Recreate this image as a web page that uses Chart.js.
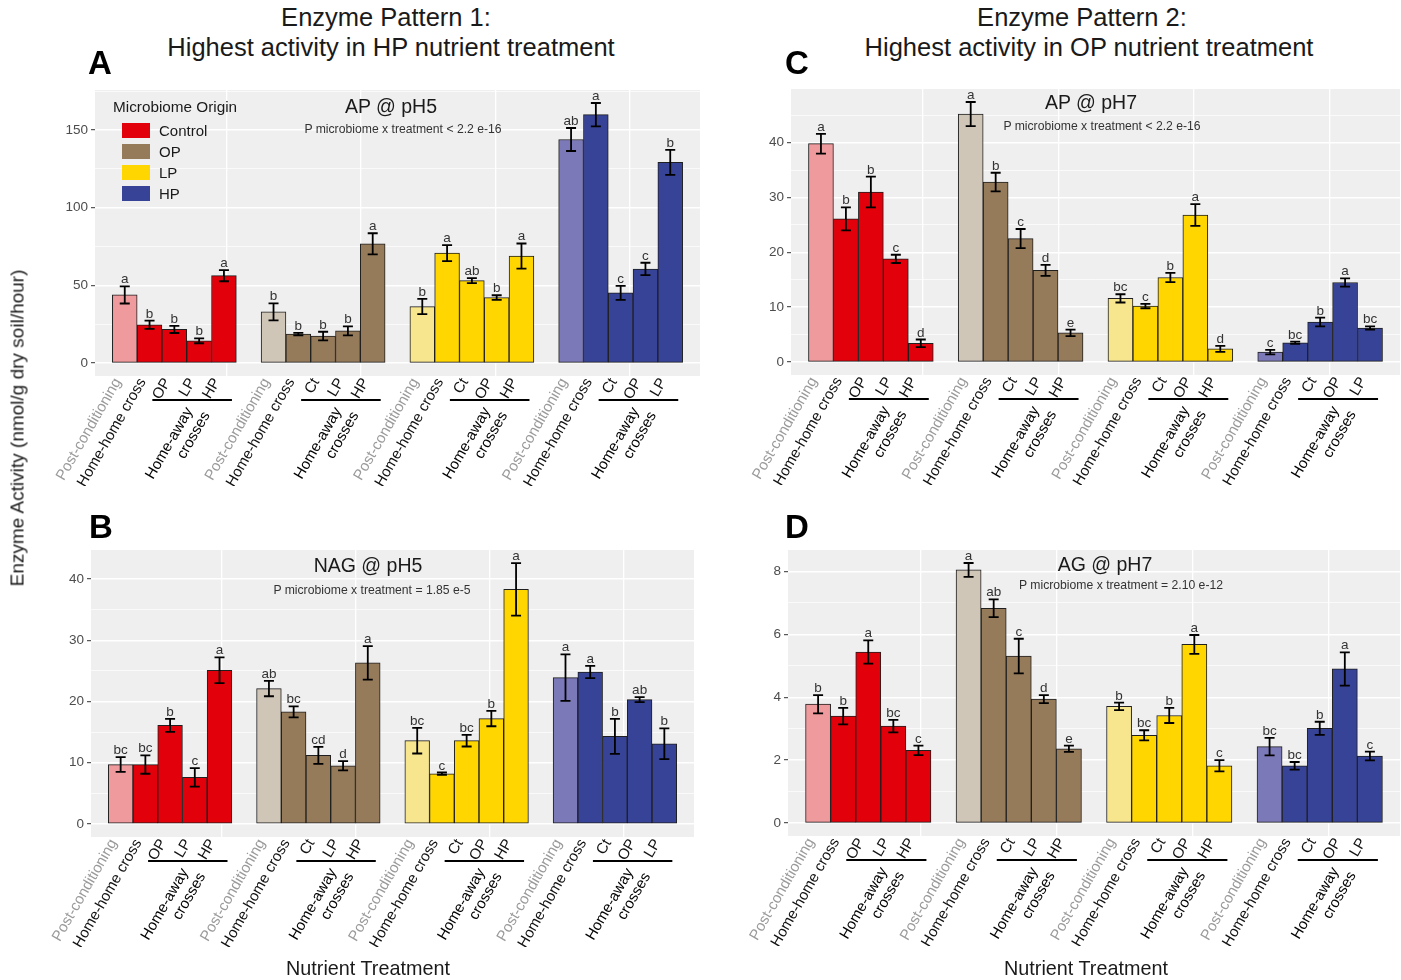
<!DOCTYPE html>
<html>
<head>
<meta charset="utf-8">
<script src="https://cdn.jsdelivr.net/npm/chart.js@4.4.1/dist/chart.umd.min.js"></script>
<style>
  body { margin:0; background:#fff; width:1401px; height:980px; overflow:hidden; position:relative;
         font-family:"Liberation Sans", Arial, sans-serif; color:#1a1a1a; }
  canvas { position:absolute; }
  .t { position:absolute; white-space:nowrap; line-height:1; }
  .c { transform:translateX(-50%); }
  .sw { position:absolute; width:28px; height:15px; }
</style>
</head>
<body>
<canvas id="cA" width="700" height="420" style="left:0;top:80px"></canvas>
<canvas id="cC" width="701" height="420" style="left:700px;top:80px"></canvas>
<canvas id="cB" width="700" height="420" style="left:0;top:540px"></canvas>
<canvas id="cD" width="701" height="420" style="left:700px;top:540px"></canvas>

<!-- заголовки -->
<div class="t c" style="left:386px;top:5.4px;font-size:25.5px">Enzyme Pattern 1:</div>
<div class="t c" style="left:391px;top:35.4px;font-size:25.5px">Highest activity in HP nutrient treatment</div>
<div class="t c" style="left:1082px;top:5.4px;font-size:25.5px">Enzyme Pattern 2:</div>
<div class="t c" style="left:1089px;top:35.4px;font-size:25.5px">Highest activity in OP nutrient treatment</div>

<div class="t" style="left:88px;top:46px;font-size:33px;font-weight:bold;color:#000">A</div>
<div class="t" style="left:785px;top:46px;font-size:33px;font-weight:bold;color:#000">C</div>
<div class="t" style="left:89px;top:510px;font-size:33px;font-weight:bold;color:#000">B</div>
<div class="t" style="left:785px;top:510px;font-size:33px;font-weight:bold;color:#000">D</div>

<!-- подписи панелей -->
<div class="t c" style="left:391px;top:96.5px;font-size:19.5px">AP @ pH5</div>
<div class="t c" style="left:403px;top:122.7px;font-size:12.2px;color:#333">P microbiome x treatment &lt; 2.2 e-16</div>
<div class="t c" style="left:1091px;top:92.5px;font-size:19.5px">AP @ pH7</div>
<div class="t c" style="left:1102px;top:119.7px;font-size:12.2px;color:#333">P microbiome x treatment &lt; 2.2 e-16</div>
<div class="t c" style="left:368px;top:555.5px;font-size:19.5px">NAG @ pH5</div>
<div class="t c" style="left:372px;top:583.7px;font-size:12.2px;color:#333">P microbiome x treatment = 1.85 e-5</div>
<div class="t c" style="left:1105px;top:554.5px;font-size:19.5px">AG @ pH7</div>
<div class="t c" style="left:1121px;top:578.7px;font-size:12.2px;color:#333">P microbiome x treatment = 2.10 e-12</div>

<!-- оси -->
<div class="t" style="left:17px;top:428px;font-size:19px;transform:translate(-50%,-50%) rotate(-90deg)">Enzyme Activity (nmol/g dry soil/hour)</div>
<div class="t c" style="left:368px;top:959.2px;font-size:19.8px">Nutrient Treatment</div>
<div class="t c" style="left:1086px;top:959.2px;font-size:19.8px">Nutrient Treatment</div>

<!-- легенда -->
<div id="legend"></div>

<script>
// === DATA ===
const GROUPS = ['Control', 'OP', 'LP', 'HP'];
const TREATMENTS = [
  ['Post-conditioning', 'Home-home cross', 'OP', 'LP', 'HP'],
  ['Post-conditioning', 'Home-home cross', 'Ct', 'LP', 'HP'],
  ['Post-conditioning', 'Home-home cross', 'Ct', 'OP', 'HP'],
  ['Post-conditioning', 'Home-home cross', 'Ct', 'OP', 'LP']
];
const AWAY_LABEL = ['Home-away', 'crosses'];

// A: AP @ pH5
const AP5_MEAN = [43.8, 24.6, 21.6, 14.3, 56.2,  32.9, 18.6, 17.3, 20.7, 76.7,  36.3, 70.7, 53.0, 42.1, 68.8,  143.8, 159.8, 45.1, 60.5, 129.1];
const AP5_SE   = [5.5, 2.7, 2.3, 1.6, 3.6,  5.5, 0.8, 2.8, 2.9, 6.8,  4.9, 5.2, 1.6, 1.5, 8.1,  7.4, 7.5, 4.5, 4.0, 8.1];
const AP5_LET  = ['a','b','b','b','a',  'b','b','b','b','a',  'b','a','ab','b','a',  'ab','a','c','c','b'];
const AP5_TICKS = [0, 50, 100, 150];

// C: AP @ pH7
const AP7_MEAN = [39.8, 26.1, 31.0, 18.8, 3.4,  45.2, 32.8, 22.5, 16.7, 5.3,  11.6, 10.2, 15.4, 26.8, 2.4,  1.8, 3.5, 7.3, 14.5, 6.2];
const AP7_SE   = [1.8, 2.1, 2.8, 0.75, 0.7,  2.2, 1.7, 1.75, 1.0, 0.6,  0.75, 0.4, 0.85, 2.0, 0.55,  0.4, 0.2, 0.8, 0.75, 0.3];
const AP7_LET  = ['a','b','b','c','d',  'a','b','c','d','e',  'bc','c','b','a','d',  'c','bc','b','a','bc'];
const AP7_TICKS = [0, 10, 20, 30, 40];

// B: NAG @ pH5
const NAG5_MEAN = [9.7, 9.7, 16.1, 7.6, 25.1,  22.1, 18.3, 11.2, 9.5, 26.3,  13.6, 8.2, 13.6, 17.2, 38.3,  23.9, 24.8, 14.3, 20.3, 13.1];
const NAG5_SE   = [1.2, 1.5, 1.05, 1.5, 2.1,  1.25, 0.9, 1.4, 0.75, 2.75,  2.1, 0.2, 0.95, 1.25, 4.3,  3.8, 1.0, 2.85, 0.4, 2.5];
const NAG5_LET  = ['bc','bc','b','c','a',  'ab','bc','cd','d','a',  'bc','c','bc','b','a',  'a','a','b','ab','b'];
const NAG5_TICKS = [0, 10, 20, 30, 40];

// D: AG @ pH7
const AG7_MEAN = [3.78, 3.40, 5.44, 3.08, 2.31,  8.05, 6.83, 5.31, 3.94, 2.36,  3.71, 2.79, 3.42, 5.68, 1.82,  2.43, 1.82, 3.01, 4.90, 2.13];
const AG7_SE   = [0.29, 0.26, 0.37, 0.20, 0.15,  0.22, 0.28, 0.55, 0.13, 0.10,  0.12, 0.16, 0.24, 0.30, 0.18,  0.28, 0.12, 0.21, 0.53, 0.14];
const AG7_LET  = ['b','b','a','bc','c',  'a','ab','c','d','e',  'b','bc','b','a','c',  'bc','bc','b','a','c'];
const AG7_TICKS = [0, 2, 4, 6, 8];

// === STYLE ===
const FONT   = '"Liberation Sans", Arial, sans-serif';
const FULL   = ['#E2000B', '#967B5B', '#FFD600', '#374396'];
const PALE   = ['#EF9A9D', '#D0C6B8', '#F8E68E', '#7C79B9'];
const PANEL_BG = '#EFEFEF';
const XPAD   = 0.7;                          // поля по краям оси x, в ширинах столбика
const VGRID  = [1.37, 6.81, 12.24, 17.66];   // вертикальные линии сетки (в единицах оси x)

Chart.defaults.font.family = FONT;

const PANELS = [
  { id:'cA', mean:AP5_MEAN,  se:AP5_SE,  letters:AP5_LET,  ticks:AP5_TICKS,  pad:{left:55, right:0, top:10, bottom:14} },
  { id:'cC', mean:AP7_MEAN,  se:AP7_SE,  letters:AP7_LET,  ticks:AP7_TICKS,  pad:{left:51, right:1, top:9,  bottom:15} },
  { id:'cB', mean:NAG5_MEAN, se:NAG5_SE, letters:NAG5_LET, ticks:NAG5_TICKS, pad:{left:51, right:6, top:10, bottom:13} },
  { id:'cD', mean:AG7_MEAN,  se:AG7_SE,  letters:AG7_LET,  ticks:AG7_TICKS,  pad:{left:48, right:1, top:10, bottom:14} }
];

// === plugins ===
function panelBgPlugin(){
  return {
    id: 'panelBg',
    beforeDraw(chart){
      const { ctx, chartArea:a } = chart;
      ctx.save();
      ctx.fillStyle = PANEL_BG;
      ctx.fillRect(a.left, a.top, a.right - a.left, a.bottom - a.top);
      ctx.restore();
    }
  };
}

function errorBarsPlugin(mean, se, letters){
  return {
    id: 'errorBars',
    afterDatasetsDraw(chart){
      const { ctx } = chart;
      const y = chart.scales.y;
      const meta = chart.getDatasetMeta(0);
      ctx.save();
      meta.data.forEach((bar, k) => {
        const yt = y.getPixelForValue(mean[k] + se[k]);
        const yb = y.getPixelForValue(mean[k] - se[k]);
        ctx.strokeStyle = '#000';
        ctx.lineWidth = 1.8;
        ctx.beginPath();
        ctx.moveTo(bar.x, yt);     ctx.lineTo(bar.x, yb);
        ctx.moveTo(bar.x - 5, yt); ctx.lineTo(bar.x + 5, yt);
        ctx.moveTo(bar.x - 5, yb); ctx.lineTo(bar.x + 5, yb);
        ctx.stroke();
        // буква значимости над усом
        ctx.fillStyle = '#333';
        ctx.font = '13.5px ' + FONT;
        ctx.textAlign = 'center';
        ctx.textBaseline = 'alphabetic';
        ctx.fillText(letters[k], bar.x, yt - 3);
      });
      ctx.restore();
    }
  };
}

function awayGroupPlugin(xOf){
  return {
    id: 'awayGroup',
    afterDraw(chart){
      const { ctx, chartArea:a } = chart;
      const x = chart.scales.x;
      ctx.save();
      GROUPS.forEach((g, gi) => {
        const x2 = x.getPixelForValue(xOf(gi * 5 + 2));
        const x4 = x.getPixelForValue(xOf(gi * 5 + 4));
        const ly = a.bottom + 24;
        ctx.strokeStyle = '#000';
        ctx.lineWidth = 2;
        ctx.beginPath();
        ctx.moveTo(x2 - 22, ly);
        ctx.lineTo(x4 + 8, ly);
        ctx.stroke();

        ctx.save();
        ctx.translate(x4 - 41, a.bottom + 29);
        ctx.rotate(-Math.PI / 3);
        ctx.fillStyle = '#000';
        ctx.font = '15px ' + FONT;
        ctx.textAlign = 'right';
        ctx.textBaseline = 'top';
        ctx.fillText(AWAY_LABEL[0], 0, 0);
        ctx.fillText(AWAY_LABEL[1], 5, 17);
        ctx.restore();
      });
      ctx.restore();
    }
  };
}

// === RENDER ===
function renderPanel(p){
  const xOf = k => Math.floor(k / 5) * 6 + (k % 5);   // 5 столбиков + пропуск на группу
  const xs = p.mean.map((_, k) => xOf(k));
  const labels = TREATMENTS.flat();
  const colors = p.mean.map((_, k) => (k % 5 === 0 ? PALE : FULL)[Math.floor(k / 5)]);

  const top = Math.max(...p.mean.map((m, k) => m + p.se[k]));
  const yMin = -0.05 * top, yMax = 1.05 * top;
  const half = (p.ticks[1] - p.ticks[0]) / 2;
  const yTicks = [];
  for (let i = 0; p.ticks[0] + i * half <= yMax; i++) yTicks.push(p.ticks[0] + i * half);
  const isMajor = v => p.ticks.includes(v);

  const xMin = xs[0] - 0.5 - XPAD, xMax = xs[xs.length - 1] + 0.5 + XPAD;

  new Chart(document.getElementById(p.id), {
    type: 'bar',
    data: {
      datasets: [{
        data: xs.map((x, k) => ({ x, y: p.mean[k] })),
        backgroundColor: colors,
        borderColor: '#1f1f1f',
        borderWidth: 1,
        borderSkipped: false,
        barPercentage: 1,
        categoryPercentage: 1
      }]
    },
    options: {
      responsive: false,
      animation: false,
      events: [],
      layout: { padding: p.pad },
      plugins: { legend: { display: false }, tooltip: { enabled: false } },
      scales: {
        x: {
          type: 'linear', min: xMin, max: xMax, offset: false,
          grid: { display: false, drawTicks: false, offset: false }, border: { display: false },
          afterBuildTicks: s => { s.ticks = xs.map(v => ({ value: v })); },
          ticks: {
            autoSkip: false, minRotation: 60, maxRotation: 60, padding: -1, labelOffset: -7,
            font: { size: 15 },
            color: c => (c.index % 5 === 0 ? '#9a9a9a' : '#111'),
            callback: (v, i) => labels[i]
          },
          afterFit: s => { s.height = 110; s.paddingLeft = 0; s.paddingRight = 0; }
        },
        xg: {
          type: 'linear', position: 'bottom', min: xMin, max: xMax, offset: false,
          afterBuildTicks: s => { s.ticks = VGRID.map(v => ({ value: v })); },
          grid: { color: '#fff', lineWidth: 1.3, drawTicks: false },
          border: { display: false },
          ticks: { display: false },
          afterFit: s => { s.height = 0; s.paddingLeft = 0; s.paddingRight = 0; }
        },
        y: {
          min: yMin, max: yMax,
          afterBuildTicks: s => { s.ticks = yTicks.map(v => ({ value: v })); },
          grid: {
            color: '#fff',
            lineWidth: c => (isMajor(c.tick.value) ? 1.4 : 0.7),
            tickColor: c => (isMajor(c.tick.value) ? '#333' : 'rgba(0,0,0,0)'),
            tickLength: 4, tickWidth: 1
          },
          border: { display: false },
          ticks: {
            padding: 3, font: { size: 13.5 }, color: '#4d4d4d',
            callback: v => (isMajor(v) ? String(v) : '')
          },
          afterFit: s => { s.width = 40; s.paddingTop = 0; s.paddingBottom = 0; }
        }
      }
    },
    plugins: [panelBgPlugin(), errorBarsPlugin(p.mean, p.se, p.letters), awayGroupPlugin(xOf)]
  });
}

function renderLegend(box){
  const add = (txt, style) => {
    const d = document.createElement('div');
    d.className = 't';
    d.style.cssText = style;
    d.textContent = txt;
    box.appendChild(d);
  };
  add('Microbiome Origin', 'left:113px;top:99px;font-size:15.3px');
  GROUPS.forEach((g, i) => {
    const sw = document.createElement('div');
    sw.className = 'sw';
    sw.style.left = '122px';
    sw.style.top = (123 + i * 21) + 'px';
    sw.style.background = FULL[i];
    box.appendChild(sw);
    add(g, `left:159px;top:${123 + i * 21}px;font-size:15px;line-height:15px`);
  });
}

PANELS.forEach(renderPanel);
renderLegend(document.getElementById('legend'));
</script>
</body>
</html>
